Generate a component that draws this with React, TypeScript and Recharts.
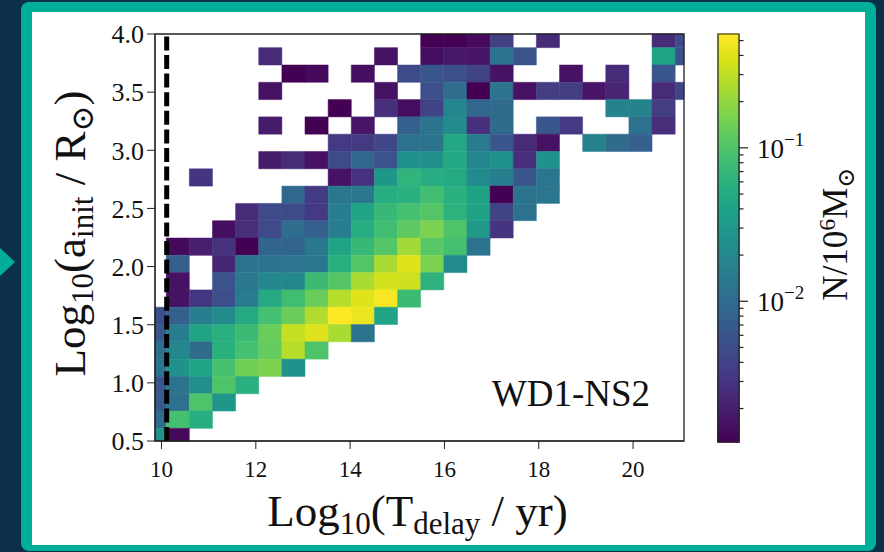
import React from 'react';
import { ComposedChart, XAxis, YAxis, ReferenceArea, ReferenceLine, ReferenceDot, Label } from 'recharts';

const _ = null;
const FONT = '"Liberation Serif", "DejaVu Serif", serif';

// bins of the 2D histogram
const X_BIN_START = 9.609; // log10(T_delay / yr), left edge of first column
const X_BIN_WIDTH = 0.4906;
const Y_BIN_START = 0.46; // log10(a_init / Rsun), bottom edge of lowest row
const Y_BIN_HEIGHT = 0.1488;

const X_DOMAIN = [9.862, 21.08];
const Y_DOMAIN = [0.5, 4.0];
const X_TICKS = [10, 12, 14, 16, 18, 20];
const Y_TICKS = [0.5, 1.0, 1.5, 2.0, 2.5, 3.0, 3.5, 4.0];
const HUBBLE_TIME = 10.11;

const CBAR_MIN = 0.00121;
const CBAR_MAX = 0.552;
const CBAR_TICKS = [
  0.002, 0.003, 0.004, 0.005, 0.006, 0.007, 0.008, 0.009,
  0.01, 0.02, 0.03, 0.04, 0.05, 0.06, 0.07, 0.08, 0.09,
  0.1, 0.2, 0.3, 0.4, 0.5,
];
const CBAR_LABELED = [0.01, 0.1];

// N / 1e6 Msun per bin, top row (a ~ 4.0) first, column 0 = leftmost
const DENSITY: (number | null)[][] = [
  [_, _, _, _, _, _, _, _, _, _, _, _, 0.0012, 0.0012, 0.0014, 0.0039, _, 0.0025, _, _, _, _, 0.0025, 0.0047],
  [_, _, _, _, _, 0.0025, _, _, _, _, 0.0016, _, 0.0015, 0.0018, 0.0017, 0.0124, 0.0059, _, _, _, _, _, 0.042, 0.0059],
  [_, _, _, _, _, _, 0.0012, 0.0014, _, 0.0015, _, 0.0047, 0.0063, 0.0053, 0.0041, 0.0016, _, _, 0.0016, _, 0.0025, _, 0.0063, _],
  [_, _, _, _, _, 0.0016, _, _, _, _, 0.0016, _, 0.0053, 0.0103, 0.0012, 0.0124, 0.0016, 0.0036, 0.0036, 0.0017, 0.0022, _, 0.0025, 0.0041],
  [_, _, _, _, _, _, _, _, 0.0012, _, 0.0027, 0.0015, 0.0041, 0.019, 0.0091, 0.0097, _, _, _, _, 0.018, 0.018, 0.0036, _],
  [_, _, _, _, _, 0.0019, _, 0.0012, _, 0.0017, _, 0.0076, 0.0124, 0.0215, 0.0027, 0.0097, _, 0.0063, 0.0034, _, _, 0.0117, 0.0027, _],
  [_, _, _, _, _, _, _, _, 0.0034, 0.0034, 0.0044, 0.0117, 0.0124, 0.0476, 0.0149, 0.0063, 0.0025, 0.0016, _, 0.018, 0.0097, 0.0076],
  [_, _, _, _, _, 0.0019, 0.0025, 0.0016, 0.0047, 0.0091, 0.0059, 0.0258, 0.0258, 0.0476, 0.0202, 0.0258, 0.0027, 0.0258],
  [_, _, 0.003, _, _, _, _, _, 0.0016, 0.0029, 0.029, 0.065, 0.054, 0.048, 0.0215, 0.0158, 0.0063, 0.0132],
  [_, _, _, _, _, _, 0.0091, 0.0034, 0.014, 0.014, 0.054, 0.057, 0.083, 0.057, 0.04, 0.0012, 0.0124, 0.0132],
  [_, _, _, _, 0.0025, 0.0047, 0.0047, 0.0034, 0.0158, 0.042, 0.073, 0.088, 0.106, 0.061, 0.04, 0.0041, 0.0117],
  [_, _, _, 0.0015, 0.0027, 0.0047, 0.0103, 0.0076, 0.0158, 0.054, 0.083, 0.119, 0.162, 0.099, 0.031, 0.003],
  [_, 0.0014, 0.002, 0.0029, 0.0012, 0.0086, 0.0086, 0.014, 0.042, 0.073, 0.106, 0.234, 0.112, 0.088, 0.0124],
  [_, 0.0076, _, 0.0022, 0.0124, 0.0124, 0.0132, 0.014, 0.057, 0.106, 0.249, 0.406, 0.162, 0.0215],
  [_, 0.0016, _, 0.0059, 0.014, 0.02, 0.02, 0.078, 0.106, 0.249, 0.36, 0.338, 0.061],
  [_, 0.0016, 0.0032, 0.0053, 0.0149, 0.048, 0.083, 0.135, 0.281, 0.406, 0.52, 0.078],
  [0.0053, 0.0076, 0.0158, 0.0215, 0.048, 0.088, 0.135, 0.265, 0.55, 0.46, 0.042],
  [0.0063, 0.0158, 0.042, 0.057, 0.078, 0.135, 0.318, 0.406, 0.249, 0.0124],
  [0.011, 0.0202, 0.0097, 0.057, 0.088, 0.127, 0.281, 0.099],
  [0.0124, 0.0258, 0.042, 0.088, 0.143, 0.162, 0.0258],
  [0.0063, 0.0124, 0.0243, 0.099, 0.057],
  [0.0067, 0.0117, 0.099, 0.029],
  [0.0103, 0.088, 0.054],
  [0.0258, 0.0014],
];

const VIRIDIS = [
  '#440154', '#48186a', '#472d7b', '#424086', '#3b528b', '#33638d', '#2c728e', '#26828e', '#21918c',
  '#1fa088', '#28ae80', '#3fbc73', '#5ec962', '#84d44b', '#addc30', '#d8e219', '#fde725',
];

const hexToRgb = (h: string) => [1, 3, 5].map((i) => parseInt(h.slice(i, i + 2), 16));

const viridis = (t: number) => {
  const tt = Math.min(1, Math.max(0, t)) * (VIRIDIS.length - 1);
  const i = Math.min(VIRIDIS.length - 2, Math.floor(tt));
  const f = tt - i;
  const a = hexToRgb(VIRIDIS[i]);
  const b = hexToRgb(VIRIDIS[i + 1]);
  const c = a.map((v, k) => Math.round(v + (b[k] - v) * f));
  return `rgb(${c[0]},${c[1]},${c[2]})`;
};

const logNorm = (v: number) =>
  (Math.log10(v) - Math.log10(CBAR_MIN)) / (Math.log10(CBAR_MAX) - Math.log10(CBAR_MIN));

const clamp = (v: number, lo: number, hi: number) => Math.min(hi, Math.max(lo, v));

const NROWS = DENSITY.length;
const cells: { key: string; x1: number; x2: number; y1: number; y2: number; color: string }[] = [];
DENSITY.forEach((row, r) =>
  row.forEach((v, c) => {
    if (v == null) return;
    const j = NROWS - 1 - r;
    cells.push({
      key: `${r}-${c}`,
      x1: clamp(X_BIN_START + c * X_BIN_WIDTH, X_DOMAIN[0], X_DOMAIN[1]),
      x2: clamp(X_BIN_START + (c + 1) * X_BIN_WIDTH, X_DOMAIN[0], X_DOMAIN[1]),
      y1: clamp(Y_BIN_START + j * Y_BIN_HEIGHT, Y_DOMAIN[0], Y_DOMAIN[1]),
      y2: clamp(Y_BIN_START + (j + 1) * Y_BIN_HEIGHT, Y_DOMAIN[0], Y_DOMAIN[1]),
      color: viridis(logNorm(v)),
    });
  })
);

// colour bar drawn as thin slices in log space
const CBAR_STEPS = 120;
const cbarSlices = Array.from({ length: CBAR_STEPS }, (_v, i) => {
  const lo = Math.log10(CBAR_MIN);
  const hi = Math.log10(CBAR_MAX);
  const a = lo + ((hi - lo) * i) / CBAR_STEPS;
  const b = lo + ((hi - lo) * (i + 1)) / CBAR_STEPS;
  return { y1: Math.pow(10, a), y2: Math.pow(10, b), color: viridis((i + 0.5) / CBAR_STEPS) };
});

const XTitle = (props: any) => {
  const vb = props.viewBox || { x: 155, y: 441, width: 529 };
  const cx = vb.x + vb.width / 2 - 2;
  return (
    <text x={cx} y={vb.y + 85} textAnchor="middle" fontSize={45} fontFamily={FONT} fill="#111">
      Log<tspan dy={8} fontSize={31}>10</tspan>
      <tspan dy={-8}>(T</tspan>
      <tspan dy={8} fontSize={31}>delay</tspan>
      <tspan dy={-8}> / yr)</tspan>
    </text>
  );
};

const YTitle = (props: any) => {
  const vb = props.viewBox || { x: 95, y: 34, height: 407 };
  const x = vb.x - 10;
  const y = vb.y + vb.height / 2 - 4;
  return (
    <text x={x} y={y} transform={`rotate(-90, ${x}, ${y})`} textAnchor="middle" fontSize={45} fontFamily={FONT} fill="#111">
      Log<tspan dy={8} fontSize={31}>10</tspan>
      <tspan dy={-8}>(a</tspan>
      <tspan dy={8} fontSize={31}>init</tspan>
      <tspan dy={-8}> / R</tspan>
      <tspan dy={8} fontSize={31}>⊙</tspan>
      <tspan dy={-8}>)</tspan>
    </text>
  );
};

const CbarTitle = (props: any) => {
  const vb = props.viewBox || { x: 739, y: 34, height: 408 };
  const x = vb.x + 108;
  const y = vb.y + vb.height / 2 - 4;
  return (
    <text x={x} y={y} transform={`rotate(-90, ${x}, ${y})`} textAnchor="middle" fontSize={35} fontFamily={FONT} fill="#111">
      N/10<tspan dy={-12} fontSize={24}>6</tspan>
      <tspan dy={12}>M</tspan>
      <tspan dy={7} fontSize={24}>⊙</tspan>
    </text>
  );
};

const CbarTick = (props: any) => {
  const { x, y, payload } = props;
  const v = payload.value;
  const major = CBAR_LABELED.some((m) => Math.abs(m - v) < 1e-9);
  const len = major ? 9 : 4.5;
  const exp = Math.round(Math.log10(v));
  return (
    <g>
      <line x1={x} x2={x + len} y1={y} y2={y} stroke="#222" strokeWidth={1.2} />
      {major && (
        <text x={x + 18} y={y + 10} fontSize={27} fontFamily={FONT} fill="#111">
          10<tspan dy={-12} fontSize={19}>−{-exp}</tspan>
        </text>
      )}
    </g>
  );
};

const HeatMap = () => (
  <ComposedChart width={884} height={552} margin={{ top: 34, right: 200, bottom: 81, left: 95 }}>
    <XAxis
      type="number"
      dataKey="x"
      domain={X_DOMAIN}
      ticks={X_TICKS}
      allowDataOverflow
      height={30}
      tickSize={8}
      tickMargin={12}
      stroke="#222"
      tick={{ fontSize: 23, fill: '#111', fontFamily: FONT }}
    >
      <Label content={(p: any) => <XTitle {...p} />} />
    </XAxis>
    <YAxis
      type="number"
      dataKey="y"
      domain={Y_DOMAIN}
      ticks={Y_TICKS}
      allowDataOverflow
      width={60}
      tickSize={8}
      tickMargin={3}
      stroke="#222"
      tickFormatter={(v: number) => v.toFixed(1)}
      tick={{ fontSize: 26, fill: '#111', fontFamily: FONT }}
    >
      <Label content={(p: any) => <YTitle {...p} />} />
    </YAxis>
    {cells.map((c) => (
      <ReferenceArea
        key={c.key}
        x1={c.x1}
        x2={c.x2}
        y1={c.y1}
        y2={c.y2}
        fill={c.color}
        fillOpacity={1}
        stroke={c.color}
        strokeWidth={0.5}
        ifOverflow="visible"
      />
    ))}
    <ReferenceLine x={HUBBLE_TIME} stroke="#000" strokeWidth={5} strokeDasharray="14 4.6" ifOverflow="visible" />
    <ReferenceArea
      x1={X_DOMAIN[0]}
      x2={X_DOMAIN[1]}
      y1={Y_DOMAIN[0]}
      y2={Y_DOMAIN[1]}
      fill="none"
      stroke="#222"
      strokeWidth={1.3}
      ifOverflow="visible"
    />
    <ReferenceDot
      x={20.36}
      y={0.8}
      r={0}
      ifOverflow="visible"
      shape={(p: any) => (
        <text x={p.cx} y={p.cy} textAnchor="end" fontSize={37} fontFamily={FONT} fill="#111">
          WD1-NS2
        </text>
      )}
    />
  </ComposedChart>
);

const ColorBar = () => (
  <ComposedChart width={184} height={552} margin={{ top: 34, right: 85, bottom: 110, left: 18 }}>
    <XAxis type="number" dataKey="x" domain={[0, 1]} allowDataOverflow hide height={0} />
    <YAxis
      type="number"
      dataKey="y"
      scale="log"
      domain={[CBAR_MIN, CBAR_MAX]}
      ticks={CBAR_TICKS}
      allowDataOverflow
      orientation="right"
      width={60}
      axisLine={false}
      tickLine={false}
      tickSize={0}
      tickMargin={0}
      interval={0}
      tick={<CbarTick />}
    >
      <Label content={(p: any) => <CbarTitle {...p} />} />
    </YAxis>
    {cbarSlices.map((s, i) => (
      <ReferenceArea
        key={i}
        x1={0}
        x2={1}
        y1={s.y1}
        y2={s.y2}
        fill={s.color}
        fillOpacity={1}
        stroke={s.color}
        strokeWidth={1.5}
        ifOverflow="visible"
      />
    ))}
    <ReferenceArea
      x1={0}
      x2={1}
      y1={CBAR_MIN}
      y2={CBAR_MAX}
      fill="none"
      stroke="#222"
      strokeWidth={1.2}
      ifOverflow="visible"
    />
  </ComposedChart>
);

export default function App() {
  return (
    <div style={{ position: 'fixed', left: 0, top: 0, width: 884, height: 552, background: '#0b3048', overflow: 'hidden' }}>
      <div
        style={{
          position: 'absolute',
          left: 0,
          top: 248,
          width: 0,
          height: 0,
          borderTop: '14px solid transparent',
          borderBottom: '14px solid transparent',
          borderLeft: '15px solid #00ae99',
        }}
      />
      <div style={{ position: 'absolute', left: 21, top: 2, width: 855, height: 549, background: '#00ae99', borderRadius: 8 }} />
      <div style={{ position: 'absolute', left: 32, top: 12, width: 833, height: 533, background: '#ffffff' }} />
      <div style={{ position: 'absolute', left: 0, top: 0 }}>
        <HeatMap />
      </div>
      <div style={{ position: 'absolute', left: 700, top: 0 }}>
        <ColorBar />
      </div>
    </div>
  );
}
